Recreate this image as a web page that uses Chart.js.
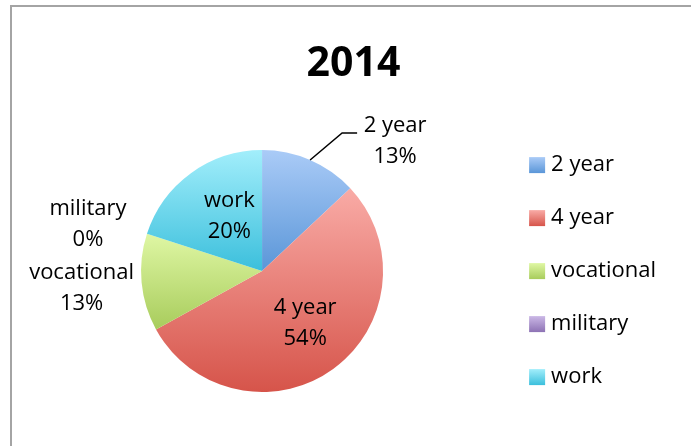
<!DOCTYPE html>
<html>
<head>
<meta charset="utf-8">
<script src="https://cdn.jsdelivr.net/npm/chart.js@4"></script>
<style>
    html, body { margin: 0; padding: 0; background: #fff; overflow: hidden; }
    #moldura { position: absolute; left: 10px; top: 5px; width: 720px; height: 480px; border-left: 2px solid #a4a4a4; border-top: 2px solid #a4a4a4; }
    #caixa { position: absolute; left: 0; top: 0; width: 691px; height: 446px; }
</style>
</head>
<body>
<div id="moldura"></div>
<div id="caixa"><canvas id="grafico_pizza_2014"></canvas></div>
<script>
const titulo = '2014'
const categorias = ['2 year', '4 year', 'vocational', 'military', 'work']
const percentuais = [13, 54, 13, 0, 20]

// degradê de cada fatia (topo -> base)
const coresTopo = ['#aacbf7', '#f9aba6', '#dff7a4', '#cbb8e6', '#a2eefb']
const coresBase = ['#5a96d8', '#d6544a', '#a8cc5c', '#8d72b4', '#3bbfdc']

// posição dos rótulos: raio = fração do raio da pizza, dx/dy = ajuste fino
const posRotulos = [
    { raio: 1, dx: 85, dy: -19, linha: [[32, -27], [47, -27]] },
    { raio: 0.55, dx: 4, dy: -2 },
    { raio: 1, dx: -60, dy: 6 },
    { raio: 1, dx: -59, dy: -9 },
    { raio: 0.53, dx: 5, dy: -3 },
]
const fonte = 'Open Sans'

Chart.defaults.font.family = fonte
Chart.defaults.color = '#000'

const criarGradiente = (ctx, y0, y1, c0, c1) => {
    const g = ctx.createLinearGradient(0, y0, 0, y1)
    g.addColorStop(0, c0)
    g.addColorStop(1, c1)
    return g
}

const propsArco = (arc) => arc.getProps(['x', 'y', 'startAngle', 'endAngle', 'outerRadius'], true)

// altura ocupada por uma fatia, para o degradê ficar por fatia como no Excel
const limitesVerticais = (arc) => {
    const { y, startAngle, endAngle, outerRadius } = propsArco(arc)
    const ys = [y, y + outerRadius * Math.sin(startAngle), y + outerRadius * Math.sin(endAngle)]
    for (let k = -2; k <= 2; k++) {
        const cima = -Math.PI / 2 + k * 2 * Math.PI
        const baixo = Math.PI / 2 + k * 2 * Math.PI
        if (cima >= startAngle && cima <= endAngle) ys.push(y - outerRadius)
        if (baixo >= startAngle && baixo <= endAngle) ys.push(y + outerRadius)
    }
    return [Math.min(...ys), Math.max(...ys)]
}

const pluginGradiente = {
    id: 'gradiente',
    beforeDatasetsDraw(chart) {
        const ctx = chart.ctx
        chart.getDatasetMeta(0).data.forEach((arc, i) => {
            const [y0, y1] = limitesVerticais(arc)
            if (y1 - y0 < 1) return
            arc.options.backgroundColor = criarGradiente(ctx, y0, y1, coresTopo[i], coresBase[i])
        })
    },
    afterDraw(chart) {
        // caixinhas da legenda com o mesmo degradê, 22px antes do texto
        const ctx = chart.ctx
        chart.legend.legendHitBoxes.forEach((box, i) => {
            const topo = box.top + 3
            const esq = box.left + 26 + 11 - 22
            ctx.fillStyle = criarGradiente(ctx, topo, topo + 16, coresTopo[i], coresBase[i])
            ctx.fillRect(esq, topo, 16, 16)
        })
    }
}

const pluginRotulos = {
    id: 'rotulos',
    afterDatasetsDraw(chart) {
        const ctx = chart.ctx
        ctx.save()
        ctx.font = `22px "${fonte}"`
        ctx.fillStyle = '#000'
        ctx.textAlign = 'center'
        ctx.textBaseline = 'middle'
        chart.getDatasetMeta(0).data.forEach((arc, i) => {
            const { x, y, startAngle, endAngle, outerRadius } = propsArco(arc)
            const meio = (startAngle + endAngle) / 2
            const p = posRotulos[i]
            const bx = x + Math.cos(meio) * outerRadius * p.raio
            const by = y + Math.sin(meio) * outerRadius * p.raio
            if (p.linha) {
                ctx.strokeStyle = '#000'
                ctx.lineWidth = 1.5
                ctx.beginPath()
                ctx.moveTo(bx, by)
                p.linha.forEach(([dx, dy]) => ctx.lineTo(bx + dx, by + dy))
                ctx.stroke()
            }
            const cx = bx + p.dx
            const cy = by + p.dy
            ctx.fillText(categorias[i], cx, cy - 15.5)
            ctx.fillText(percentuais[i] + '%', cx, cy + 15.5)
        })
        ctx.restore()
    }
}

const ctx = document.querySelector('#grafico_pizza_2014')

const chart = new Chart(ctx, {
    type: 'doughnut',
    data: {
        labels: categorias,
        datasets: [{
            data: percentuais,
            backgroundColor: coresBase,
            borderWidth: 0,
            radius: 121,
        }]
    },
    options: {
        responsive: true,
        maintainAspectRatio: false,
        animation: false,
        events: [],
        cutout: 0,
        layout: { padding: { left: 41, right: 25, top: 0, bottom: 20 } },
        plugins: {
            title: {
                display: true,
                text: titulo,
                color: '#000',
                font: { size: 41, weight: 'bold' },
                padding: { top: 40, bottom: 27 }
            },
            legend: {
                position: 'right',
                fullSize: false,
                labels: {
                    color: '#000',
                    font: { size: 22 },
                    boxWidth: 26,
                    boxHeight: 16,
                    padding: 31,
                    // a caixinha padrão fica invisível; o degradê é desenhado no plugin
                    generateLabels: (c) => Chart.overrides.doughnut.plugins.legend.labels.generateLabels(c)
                        .map(item => ({ ...item, fillStyle: 'rgba(0,0,0,0)', strokeStyle: 'rgba(0,0,0,0)', lineWidth: 0 }))
                }
            },
            tooltip: { enabled: false }
        }
    },
    plugins: [pluginGradiente, pluginRotulos]
})
</script>
</body>
</html>
